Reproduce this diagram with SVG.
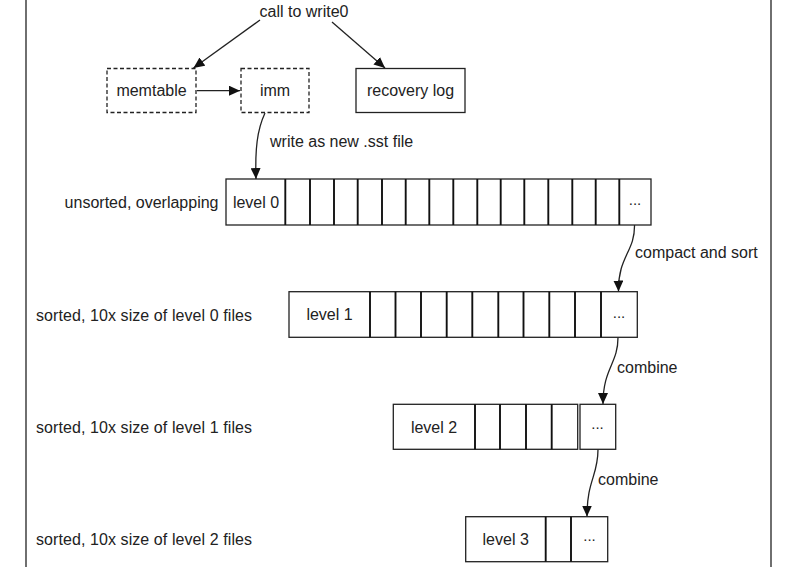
<svg xmlns="http://www.w3.org/2000/svg" width="797" height="567" viewBox="0 0 797 567">
<style>
text{font-family:"Liberation Sans",Arial,sans-serif;font-size:16px;fill:#222}
.mid{text-anchor:middle}
.box{fill:#fff;stroke:#222;stroke-width:1.3}
.dash{fill:#fff;stroke:#222;stroke-width:1.3;stroke-dasharray:4 2.5}
.div{stroke:#111;stroke-width:1.9}
.frame{stroke:#333;stroke-width:1.4}
.conn{fill:none;stroke:#222;stroke-width:1.3;marker-end:url(#ah)}
.dots{font-size:15px}
</style>
<defs>
<marker id="ah" markerUnits="userSpaceOnUse" markerWidth="12" markerHeight="10" refX="11" refY="5" orient="auto">
<path d="M0,0 L11,5 L0,10 z" fill="#111"/>
</marker>
</defs>
<rect width="797" height="567" fill="#fff"/>
<line class="frame" x1="26" y1="0" x2="26" y2="567"/>
<line class="frame" x1="771" y1="0" x2="771" y2="567"/>

<g id="call">
<text class="mid" x="304" y="17">call to write0</text>
</g>
<g id="memtable">
<rect class="dash" x="107" y="68.5" width="89" height="44"/>
<text class="mid" x="151.5" y="96">memtable</text>
</g>
<g id="imm">
<rect class="dash" x="241" y="68.5" width="68" height="44"/>
<text class="mid" x="275" y="96">imm</text>
</g>
<g id="recovery">
<rect class="box" x="356" y="68.5" width="109" height="44"/>
<text class="mid" x="410.5" y="96">recovery log</text>
</g>

<g id="labels">
<text x="218.5" y="207.5" text-anchor="end">unsorted, overlapping</text>
<text x="36" y="321" textLength="216" lengthAdjust="spacing">sorted, 10x size of level 0 files</text>
<text x="36" y="433" textLength="216" lengthAdjust="spacing">sorted, 10x size of level 1 files</text>
<text x="36" y="545" textLength="216" lengthAdjust="spacing">sorted, 10x size of level 2 files</text>
</g>

<g id="level0">
<rect class="box" x="226" y="179" width="425" height="46"/>
<g class="div">
<line x1="285.3" y1="179" x2="285.3" y2="225"/>
<line x1="310" y1="179" x2="310" y2="225"/>
<line x1="334" y1="179" x2="334" y2="225"/>
<line x1="357.7" y1="179" x2="357.7" y2="225"/>
<line x1="382" y1="179" x2="382" y2="225"/>
<line x1="405.7" y1="179" x2="405.7" y2="225"/>
<line x1="429.3" y1="179" x2="429.3" y2="225"/>
<line x1="453.3" y1="179" x2="453.3" y2="225"/>
<line x1="477.3" y1="179" x2="477.3" y2="225"/>
<line x1="500.7" y1="179" x2="500.7" y2="225"/>
<line x1="524.3" y1="179" x2="524.3" y2="225"/>
<line x1="548.3" y1="179" x2="548.3" y2="225"/>
<line x1="572.3" y1="179" x2="572.3" y2="225"/>
<line x1="595.7" y1="179" x2="595.7" y2="225"/>
<line x1="619.3" y1="179" x2="619.3" y2="225"/>
</g>
<text class="mid" x="256" y="208">level 0</text>
<text class="mid dots" x="635" y="204.5">...</text>
</g>

<g id="level1">
<rect class="box" x="289" y="291.7" width="348.3" height="45.6"/>
<g class="div">
<line x1="370" y1="291.7" x2="370" y2="337.3"/>
<line x1="395.5" y1="291.7" x2="395.5" y2="337.3"/>
<line x1="421" y1="291.7" x2="421" y2="337.3"/>
<line x1="446.7" y1="291.7" x2="446.7" y2="337.3"/>
<line x1="472.3" y1="291.7" x2="472.3" y2="337.3"/>
<line x1="498.3" y1="291.7" x2="498.3" y2="337.3"/>
<line x1="523.5" y1="291.7" x2="523.5" y2="337.3"/>
<line x1="549.3" y1="291.7" x2="549.3" y2="337.3"/>
<line x1="575" y1="291.7" x2="575" y2="337.3"/>
<line x1="601" y1="291.7" x2="601" y2="337.3"/>
</g>
<text class="mid" x="329.5" y="320">level 1</text>
<text class="mid dots" x="619" y="318">...</text>
</g>

<g id="level2">
<rect class="box" x="393.3" y="404.3" width="184.4" height="45"/>
<rect class="box" x="580" y="404.3" width="35.7" height="45"/>
<g class="div">
<line x1="475" y1="404.3" x2="475" y2="449.3"/>
<line x1="500" y1="404.3" x2="500" y2="449.3"/>
<line x1="526" y1="404.3" x2="526" y2="449.3"/>
<line x1="551.7" y1="404.3" x2="551.7" y2="449.3"/>
</g>
<text class="mid" x="434" y="433">level 2</text>
<text class="mid dots" x="597.5" y="428.5">...</text>
</g>

<g id="level3">
<rect class="box" x="465.7" y="516.7" width="142" height="45"/>
<g class="div">
<line x1="545.7" y1="516.7" x2="545.7" y2="561.7"/>
<line x1="571" y1="516.7" x2="571" y2="561.7"/>
</g>
<text class="mid" x="505.7" y="545">level 3</text>
<text class="mid dots" x="589.5" y="541">...</text>
</g>

<g id="connectors">
<path class="conn" d="M260,20 L193.5,68"/>
<path class="conn" d="M332,22 L385,68"/>
<path class="conn" d="M197,90.7 L240,90.7"/>
<path class="conn" d="M265,113 C257,130 255,150 256,179"/>
<path class="conn" d="M634.5,225 C635,252 618,256 618.5,291.5"/>
<path class="conn" d="M618,337.5 C618,364 603,368 603,404"/>
<path class="conn" d="M598,449.5 C598,476 587,480 587,516.5"/>
<text x="270" y="147">write as new .sst file</text>
<text x="635" y="258">compact and sort</text>
<text x="617" y="373">combine</text>
<text x="598" y="485">combine</text>
</g>
</svg>
